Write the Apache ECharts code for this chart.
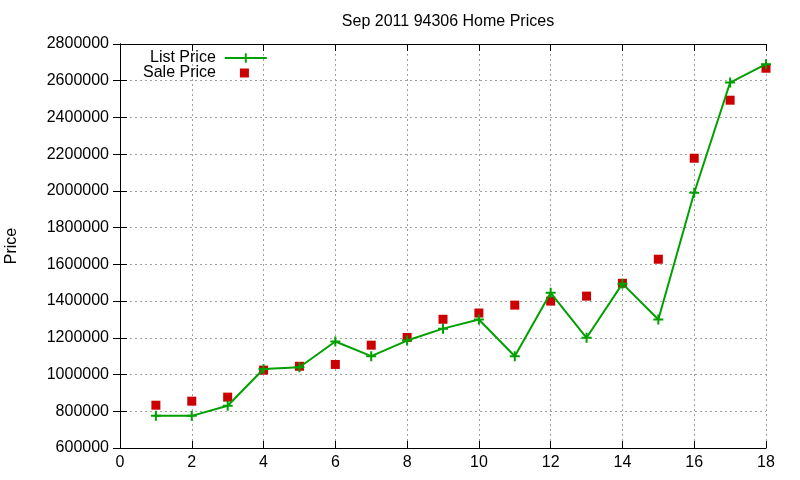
<!DOCTYPE html>
<html>
<head>
<meta charset="utf-8">
<script src="https://cdn.jsdelivr.net/npm/echarts@6/dist/echarts.min.js"></script>
<style>
  html, body { margin: 0; padding: 0; background: #fff; }
  #chart { width: 800px; height: 480px; }
</style>
</head>
<body>
<div id="chart"></div>
<script>
  // values
  const houses = [1, 2, 3, 4, 5, 6, 7, 8, 9, 10, 11, 12, 13, 14, 15, 16, 17, 18];
  const listPrice = [775000, 775000, 830000, 1030000, 1040000, 1180000, 1100000, 1185000, 1250000,
    1300000, 1100000, 1445000, 1200000, 1495000, 1300000, 1990000, 2590000, 2690000];
  const salePrice = [833000, 855000, 877000, 1024000, 1045000, 1055000, 1160000, 1202000, 1301000,
    1335000, 1378000, 1400000, 1427000, 1497000, 1628000, 2178000, 2494000, 2668000];

  const font = 'Liberation Sans, Arial, sans-serif';
  const plusPath = 'path://M4,0H6V4H10V6H6V10H4V6H0V4H4Z';

  const gridLine = { show: true, lineStyle: { color: '#a0a0a0', type: [2, 3], width: 1 } };
  const axisBase = {
    axisLine: { show: true, lineStyle: { color: '#000', width: 1 } },
    axisTick: { show: true, inside: true, length: 7, lineStyle: { color: '#000' } },
  };

  let myChart = echarts.init(document.getElementById('chart'), null, { renderer: 'canvas' });
  myChart.setOption({
    animation: false,
    backgroundColor: '#fff',
    title: {
      text: 'Sep 2011 94306 Home Prices',
      left: 443,
      textAlign: 'center',
      top: 9,
      textStyle: { fontFamily: font, fontSize: 16, fontWeight: 'normal', color: '#000' }
    },
    legend: [
      {
        data: ['List Price'],
        left: 145,
        top: 45,
        align: 'right',
        itemWidth: 42,
        itemHeight: 12,
        textStyle: { fontFamily: font, fontSize: 16, color: '#000', padding: [0, 4, 0, 0] },
        selectedMode: false
      },
      {
        data: ['Sale Price'],
        left: 138,
        top: 60,
        align: 'right',
        itemWidth: 9,
        itemHeight: 9,
        itemStyle: { opacity: 1 },
        textStyle: { fontFamily: font, fontSize: 16, color: '#000', padding: [0, 19, 0, 0] },
        selectedMode: false
      }
    ],
    grid: { left: 120, right: 34, top: 44, bottom: 32, outerBoundsMode: 'none', containLabel: false },
    xAxis: [
      Object.assign({
        type: 'value', min: 0, max: 18, interval: 2, position: 'bottom',
        splitLine: gridLine,
        axisLabel: { fontFamily: font, fontSize: 16, color: '#000', margin: 7 }
      }, axisBase),
      Object.assign({
        type: 'value', min: 0, max: 18, interval: 2, position: 'top',
        splitLine: { show: false }, axisLabel: { show: false }
      }, axisBase)
    ],
    yAxis: [
      Object.assign({
        type: 'value', min: 600000, max: 2800000, interval: 200000, position: 'left',
        name: 'Price', nameLocation: 'middle', nameGap: 100,
        nameTextStyle: { fontFamily: font, fontSize: 16, color: '#000' },
        splitLine: gridLine,
        axisLabel: { fontFamily: font, fontSize: 16, color: '#000', margin: 11, formatter: v => String(v) }
      }, axisBase),
      Object.assign({
        type: 'value', min: 600000, max: 2800000, interval: 200000, position: 'right',
        splitLine: { show: false }, axisLabel: { show: false }
      }, axisBase)
    ],
    series: [
      {
        name: 'List Price',
        type: 'line',
        data: houses.map((h, i) => [h, listPrice[i]]),
        symbol: plusPath,
        symbolSize: 10,
        showAllSymbol: true,
        color: '#00a000',
        lineStyle: { color: '#00a000', width: 2 },
        itemStyle: { color: '#00a000' },
        z: 3
      },
      {
        name: 'Sale Price',
        type: 'scatter',
        data: houses.map((h, i) => [h, salePrice[i]]),
        symbol: 'rect',
        symbolSize: 9,
        color: '#cc0000',
        itemStyle: { color: '#cc0000', opacity: 1 },
        z: 2
      }
    ]
  });
</script>
</body>
</html>
